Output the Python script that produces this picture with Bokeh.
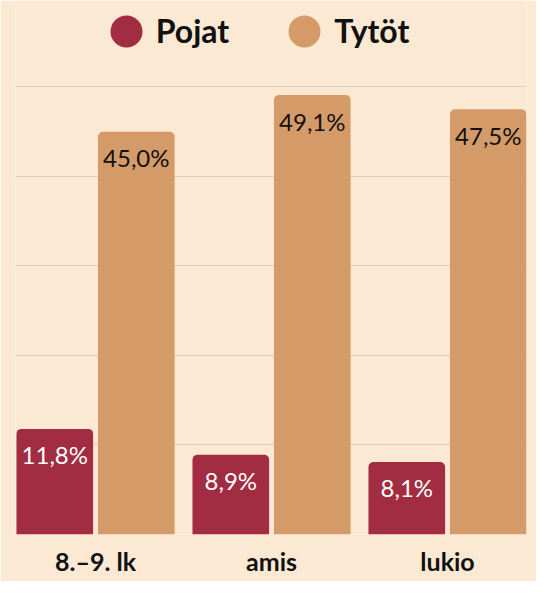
from bokeh.plotting import figure
from bokeh.models import (Range1d, FixedTicker, Legend, LegendItem, ColumnDataSource,
                          LinearAxis, CustomJSTickFormatter, Grid)
from bokeh.core.properties import value
from bokeh.embed import file_html
from bokeh.resources import INLINE

# ---- data ----
categories = ["8.–9. lk", "amis", "lukio"]
series_names = ["Pojat", "Tytöt"]
pojat = [11.8, 8.9, 8.1]
tytot = [45.0, 49.1, 47.5]
grid_ticks = [0, 10, 20, 30, 40, 50]

# ---- style ----
BG = "#fbe9d3"
RED = "#a22c41"
TAN = "#d49b68"
GRID = "#e2cdb3"
FONT = "Lato"

idx = list(range(len(categories)))
offset = 0.2315
bar_w = 0.4355

def fmt(v):
    return f"{v:.1f}".replace(".", ",") + "%"

src = ColumnDataSource(dict(
    xp=[i - offset for i in idx],
    xt=[i + offset for i in idx],
    pojat=pojat,
    tytot=tytot,
    lp=[fmt(v) for v in pojat],
    lt=[fmt(v) for v in tytot],
))

p = figure(width=536, height=581, output_backend="svg", toolbar_location=None,
           x_range=Range1d(-0.4548, 2.4487), y_range=Range1d(0, 59.66),
           x_axis_location=None, y_axis_location=None,
           min_border_left=15, min_border_right=10, min_border_top=0, min_border_bottom=47)
p.background_fill_color = BG
p.border_fill_color = BG
p.outline_line_color = None
for g in p.grid:
    g.visible = False

# grid (y only)
yax = LinearAxis(ticker=FixedTicker(ticks=grid_ticks), visible=False)
p.add_layout(yax, "left")
p.add_layout(Grid(dimension=1, ticker=yax.ticker, grid_line_color=GRID, grid_line_width=1.2))

# x axis with category labels
xax = LinearAxis(ticker=FixedTicker(ticks=idx),
                 formatter=CustomJSTickFormatter(args=dict(cats=categories),
                                                 code="return cats[Math.round(tick)]"),
                 axis_line_color=None, major_tick_line_color=None, minor_tick_line_color=None,
                 major_tick_in=0, major_tick_out=0,
                 major_label_standoff=11,
                 major_label_text_font=FONT, major_label_text_font_size="25px",
                 major_label_text_font_style="bold", major_label_text_color="#111111")
p.add_layout(xax, "below")

# bars
p.vbar(x="xp", top="pojat", width=bar_w, source=src, fill_color=RED, line_color=None,
       border_radius=(5, 5, 0, 0))
p.vbar(x="xt", top="tytot", width=bar_w, source=src, fill_color=TAN, line_color=None,
       border_radius=(5, 5, 0, 0))

# value labels
p.text(x="xp", y="pojat", text="lp", source=src, text_align="center", text_baseline="alphabetic",
       y_offset=26, text_color="white", text_font=value(FONT), text_font_size="24px")
p.text(x="xt", y="tytot", text="lt", source=src, text_align="center", text_baseline="alphabetic",
       y_offset=26, text_color="#111111", text_font=value(FONT), text_font_size="24px")

# legend proxies (placed outside the visible range)
r1 = p.ellipse(x=[-10], y=[-10], width=32, height=32, width_units="screen", height_units="screen",
               fill_color=RED, line_color=None)
r2 = p.ellipse(x=[-10], y=[-10], width=32, height=32, width_units="screen", height_units="screen",
               fill_color=TAN, line_color=None)
legend = Legend(items=[LegendItem(label=series_names[0], renderers=[r1]),
                       LegendItem(label=series_names[1], renderers=[r2])],
                orientation="horizontal", location=(90.7, 483.4),
                glyph_width=40, glyph_height=40, label_standoff=10, spacing=55,
                padding=0, margin=0, background_fill_alpha=0, border_line_color=None,
                label_text_font=FONT, label_text_font_size="32px", label_text_font_style="bold",
                label_text_color="#111111")
p.add_layout(legend, "center")

open("out.html", "w").write(file_html(p, INLINE))
